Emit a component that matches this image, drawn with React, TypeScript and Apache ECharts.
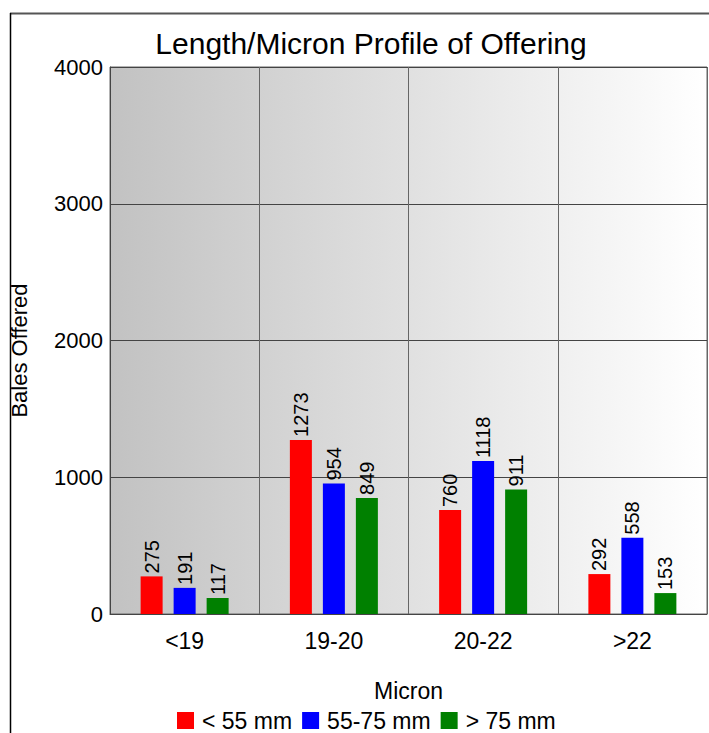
import React, { useEffect, useRef } from "react";
import * as echarts from "echarts";

const categories = ["<19", "19-20", "20-22", ">22"];
const seriesNames = ["< 55 mm", "55-75 mm", "> 75 mm"];
const shortValues = [275, 1273, 760, 292];
const midValues = [191, 954, 1118, 558];
const longValues = [117, 849, 911, 153];
const colors = ["#ff0000", "#0000ff", "#008000"];

const FONT = "'Liberation Sans', Arial, sans-serif";

export default function App() {
  const ref = useRef<HTMLDivElement>(null);
  useEffect(() => {
    document.body.style.margin = "0";
    const chart = echarts.init(ref.current!, undefined, { renderer: "svg" });
    const data = [shortValues, midValues, longValues];
    chart.setOption({
      animation: false,
      backgroundColor: "#ffffff",
      textStyle: { fontFamily: FONT },
      title: {
        text: "Length/Micron Profile of Offering",
        left: 366,
        top: 23,
        textAlign: "center",
        textStyle: { fontSize: 30, fontWeight: "normal", color: "#000", fontFamily: FONT },
      },
      graphic: [
        { type: "line", shape: { x1: 10, y1: 13.5, x2: 709, y2: 13.5 }, style: { stroke: "#555", lineWidth: 2 } },
        { type: "line", shape: { x1: 10.5, y1: 13, x2: 10.5, y2: 733 }, style: { stroke: "#000", lineWidth: 1.5 } },
      ],
      grid: {
        left: 106,
        top: 67,
        right: 2,
        bottom: 119,
        show: true,
        borderColor: "#666",
        borderWidth: 1,
        backgroundColor: new echarts.graphic.LinearGradient(0, 0, 1, 0, [
          { offset: 0, color: "#c2c2c2" },
          { offset: 1, color: "#ffffff" },
        ]),
      },
      legend: {
        top: 709,
        left: 177,
        padding: 0,
        orient: "horizontal",
        itemWidth: 17,
        itemHeight: 17,
        itemGap: 10,
        icon: "rect",
        data: seriesNames,
        textStyle: { fontSize: 23, color: "#000", fontFamily: FONT, padding: [0, 0, 0, 3] },
      },
      xAxis: {
        type: "category",
        data: categories,
        name: "Micron",
        nameLocation: "middle",
        nameGap: 65,
        nameTextStyle: { fontSize: 23, color: "#000", fontFamily: FONT },
        axisLine: { show: true, lineStyle: { color: "#444" } },
        axisTick: { show: false },
        axisLabel: { fontSize: 23, color: "#000", margin: 15, fontFamily: FONT },
        splitLine: { show: true, lineStyle: { color: "#666", width: 1 } },
      },
      yAxis: {
        type: "value",
        min: 0,
        max: 4000,
        interval: 1000,
        name: "Bales Offered",
        nameLocation: "middle",
        nameGap: 80,
        nameTextStyle: { fontSize: 22, color: "#000", fontFamily: FONT, padding: [0, 20, 0, 0] },
        axisLine: { show: true, lineStyle: { color: "#444" } },
        axisTick: { show: false },
        axisLabel: { fontSize: 22, color: "#000", margin: 7, fontFamily: FONT, formatter: (v: number) => String(v) },
        splitLine: { show: true, lineStyle: { color: "#444", width: 1 } },
      },
      series: seriesNames.map((name, i) => ({
        name,
        type: "bar",
        data: data[i],
        barWidth: 22,
        barGap: "50%",
        itemStyle: { color: colors[i] },
        label: {
          show: true,
          position: "top",
          rotate: 90,
          align: "left",
          verticalAlign: "middle",
          distance: 3,
          fontSize: 20,
          color: "#000",
          fontFamily: FONT,
        },
      })),
    });
    return () => chart.dispose();
  }, []);
  return <div ref={ref} style={{ width: 709, height: 733 }} />;
}
